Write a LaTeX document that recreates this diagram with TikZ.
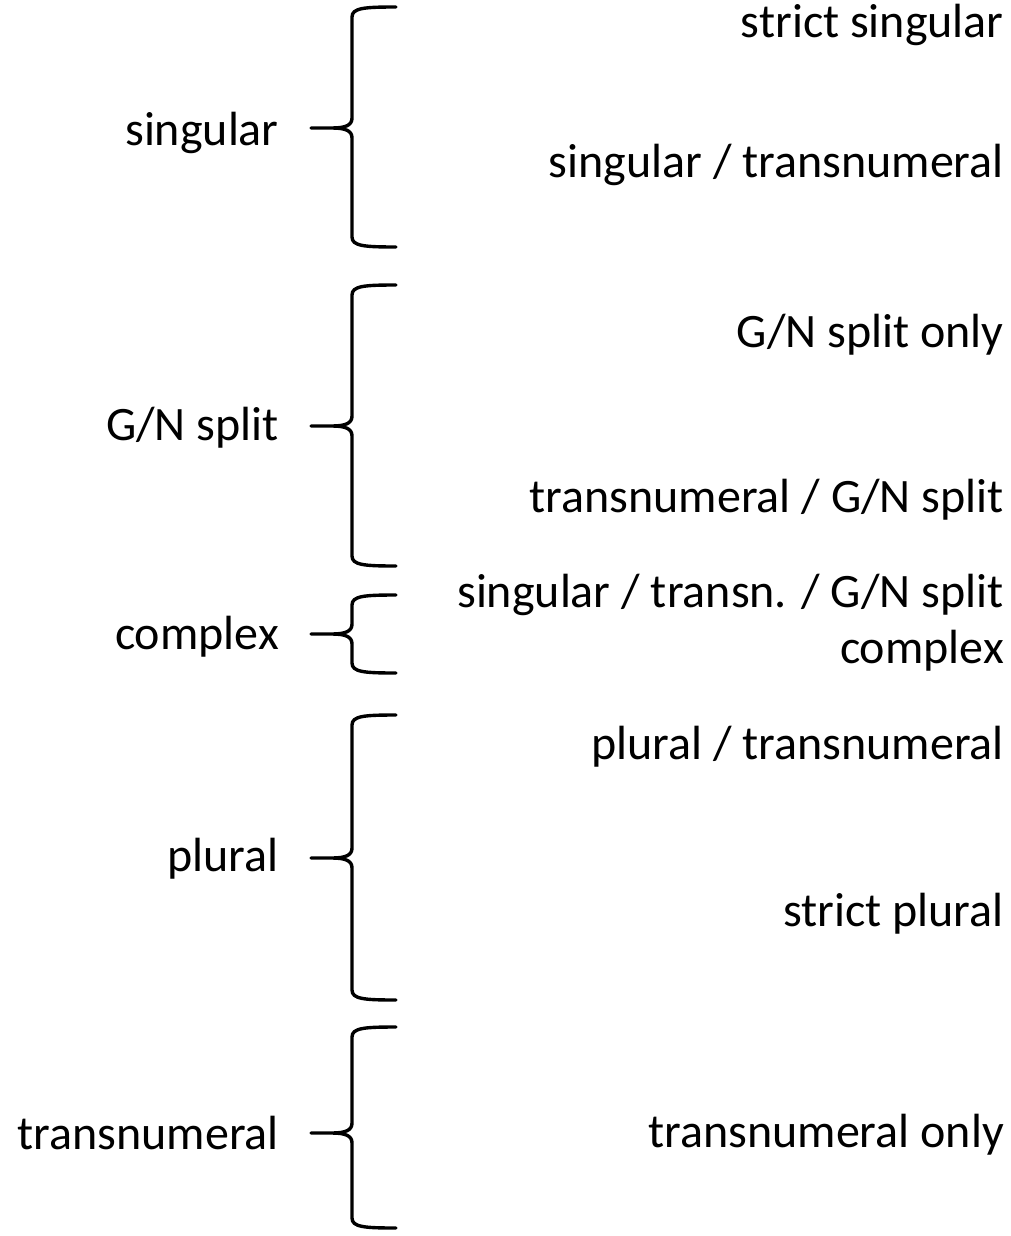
\documentclass[tikz,border=0pt]{standalone}
\usepackage{fontspec}
\setmainfont{Carlito}
\newcommand{\mybrace}[4]{% #1 name, #2 top, #3 tip, #4 bottom
  \coordinate (#1tip) at (311,#3);
  \draw[bracestyle] (396,#2) .. controls (364,#2) and (352,#2+1) .. (352,#2+10)
    -- (352,#3-10) .. controls (352,#3-3) and (346,#3) .. (332,#3) -- (#1tip)
    (332,#3) .. controls (346,#3) and (352,#3+3) .. (352,#3+10)
    -- (352,#4-10) .. controls (352,#4-1) and (364,#4) .. (396,#4);
}
\begin{document}
\begin{tikzpicture}[x=1pt,y=-1pt,
  bracestyle/.style={line width=3.4pt,line cap=round,line join=round},
  lbl/.style={anchor=base east,inner sep=0pt,font=\fontsize{48}{58}\selectfont}]
\useasboundingbox (0,0) rectangle (1011,1236);
% braces
\mybrace{b1}{7}{128}{247}
\mybrace{b2}{285}{426}{566}
\mybrace{b3}{595}{634}{673}
\mybrace{b4}{715}{858}{1000}
\mybrace{b5}{1027}{1133}{1228}
% left labels
\node[lbl] (lsing) at (279,146) {singular};
\node[lbl] (lgn) at (279,440) {G/N split};
\node[lbl] (lcomp) at (279,649) {complex};
\node[lbl] (lplur) at (279,871) {plural};
\node[lbl] (ltrans) at (279,1149) {transnumeral};
% right labels
\node[lbl] (r1) at (1004,38) {strict singular};
\node[lbl] (r2) at (1004,177) {singular / transnumeral};
\node[lbl] (r3) at (1004,347) {G/N split only};
\node[lbl] (r4) at (1004,512) {transnumeral / G/N split};
\node[lbl] (r5) at (1004,607) {singular / transn. / G/N split};
\node[lbl] (r6) at (1004,663) {complex};
\node[lbl] (r7) at (1004,759) {plural / transnumeral};
\node[lbl] (r8) at (1004,926) {strict plural};
\node[lbl] (r9) at (1004,1147) {transnumeral only};
\end{tikzpicture}
\end{document}
